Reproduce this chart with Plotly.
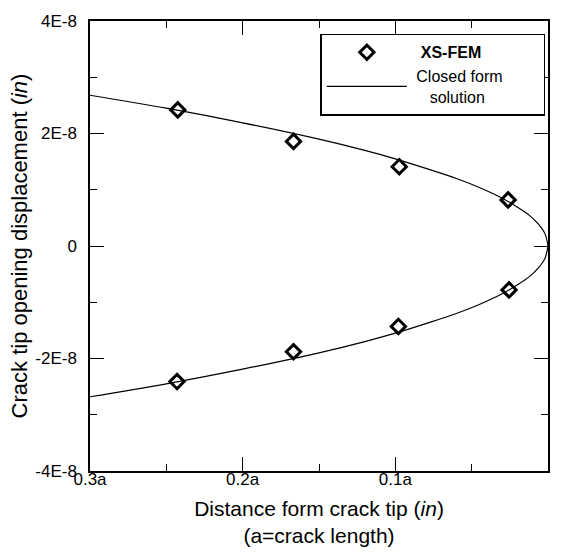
import plotly.graph_objects as go

# XS-FEM results (x in units of a, y in inches)
fem_x_upper = [0.2425, 0.1667, 0.0974, 0.0261]
fem_y_upper = [2.42e-8, 1.86e-8, 1.41e-8, 0.82e-8]
fem_x_lower = [0.2430, 0.1667, 0.0980, 0.0255]
fem_y_lower = [-2.41e-8, -1.88e-8, -1.43e-8, -0.78e-8]

# Closed form solution
closed_x = [0.3, 0.25, 0.2, 0.15, 0.12, 0.1, 0.08, 0.06, 0.045, 0.03, 0.02, 0.012, 0.006, 0.002, 0.0]
closed_y_upper = [2.68e-8, 2.45e-8, 2.19e-8, 1.90e-8, 1.70e-8, 1.55e-8, 1.38e-8, 1.20e-8,
                  1.04e-8, 0.85e-8, 0.69e-8, 0.54e-8, 0.38e-8, 0.22e-8, 0.0]
closed_y_lower = [-v for v in closed_y_upper]

x_range = [0.3, 0.0]
y_range = [-4e-8, 4e-8]
x_tickvals = [0.3, 0.2, 0.1, 0.0]
x_ticktext = ["0.3a", "0.2a", "0.1a", "0.0a"]
x_minorvals = [0.25, 0.15, 0.05]
y_tickvals = [-4e-8, -2e-8, 0, 2e-8, 4e-8]
y_ticktext = ["-4E-8", "-2E-8", "0", "2E-8", "4E-8"]
y_minorvals = [-3e-8, -1e-8, 1e-8, 3e-8]

# interior major tick positions (the end ones coincide with the frame)
x_major_marks = [v for v in x_tickvals if min(x_range) < v < max(x_range)]
y_major_marks = [v for v in y_tickvals if min(y_range) < v < max(y_range)]

FONT = "Liberation Sans, Arial, sans-serif"
NB = "\u00a0"

fig = go.Figure()
fig.add_trace(go.Scatter(
    x=closed_x, y=closed_y_upper, mode="lines", line=dict(color="black", width=1.2, shape="spline"),
    name=NB + "Closed form" + NB * 8 + "<br>" + NB * 4 + "solution", legendgroup="cf", legendrank=2))
fig.add_trace(go.Scatter(
    x=closed_x, y=closed_y_lower, mode="lines", line=dict(color="black", width=1.2, shape="spline"),
    name="Closed form", legendgroup="cf", showlegend=False, xaxis="x2", yaxis="y2"))
fig.add_trace(go.Scatter(
    x=fem_x_upper + [None] + fem_x_lower, y=fem_y_upper + [None] + fem_y_lower,
    mode="markers", name=NB * 2 + "<b>XS-FEM</b>", legendrank=1, xaxis="x3", yaxis="y3",
    marker=dict(symbol="diamond-open", size=11, color="black", line=dict(width=3, color="black"))))

main_common = dict(
    showline=True, linecolor="black", linewidth=1.5, mirror=True, ticks="",
    tickmode="array", showgrid=False, zeroline=False,
    tickfont=dict(family=FONT, size=17, color="black"),
)
tick_common = dict(
    showline=False, mirror="ticks", ticks="inside", tickcolor="black",
    tickmode="array", showgrid=False, zeroline=False, showticklabels=False,
)

fig.update_layout(
    xaxis=dict(**main_common, range=x_range, tickvals=x_tickvals, ticktext=x_ticktext,
               ticklabelstandoff=-8,
               title=dict(text="Distance form crack tip (<i>in</i>)<br>(a=crack length)",
                          font=dict(family=FONT, size=21, color="black"), standoff=13)),
    yaxis=dict(**main_common, range=y_range, tickvals=y_tickvals, ticktext=y_ticktext,
               ticklabelstandoff=8,
               title=dict(text="Crack tip opening displacement (<i>in</i>)",
                          font=dict(family=FONT, size=22, color="black"), standoff=2)),
    # major tick marks
    xaxis2=dict(**tick_common, range=x_range, tickvals=x_major_marks, ticklen=14, tickwidth=1.2,
                overlaying="x", anchor="y2", side="bottom"),
    yaxis2=dict(**tick_common, range=y_range, tickvals=y_major_marks, ticklen=14, tickwidth=1.2,
                overlaying="y", anchor="x2", side="left"),
    # minor tick marks
    xaxis3=dict(**tick_common, range=x_range, tickvals=x_minorvals, ticklen=7, tickwidth=1.2,
                overlaying="x", anchor="y3", side="bottom"),
    yaxis3=dict(**tick_common, range=y_range, tickvals=y_minorvals, ticklen=7, tickwidth=1.2,
                overlaying="y", anchor="x3", side="left"),
    width=562, height=556,
    margin=dict(l=90, r=13, t=13, b=83),
    paper_bgcolor="white", plot_bgcolor="white",
    font=dict(family=FONT, color="black"),
    legend=dict(x=0.503, y=0.9715, xanchor="left", yanchor="top",
                bordercolor="black", borderwidth=1.5, bgcolor="white",
                font=dict(family=FONT, size=16, color="black"),
                itemwidth=80, tracegroupgap=0),
)

fig.write_html("out.html")
